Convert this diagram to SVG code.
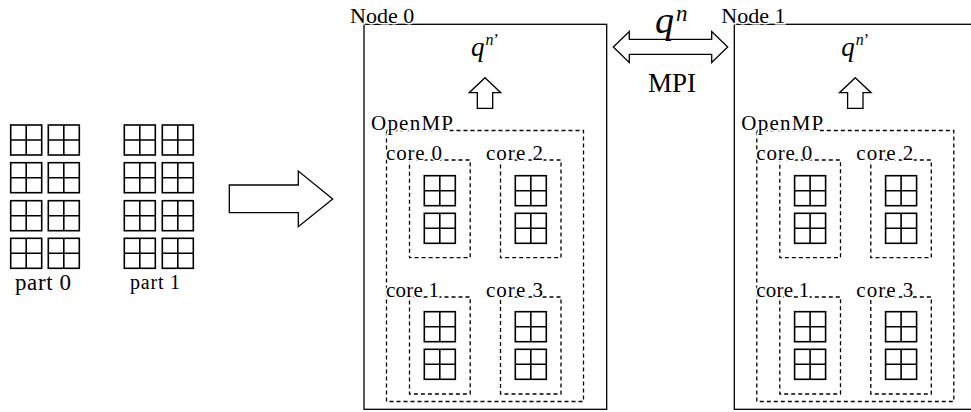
<svg xmlns="http://www.w3.org/2000/svg" xmlns:xlink="http://www.w3.org/1999/xlink" width="971" height="412" viewBox="0 0 971 412" font-family="'Liberation Serif', 'Times New Roman', 'DejaVu Serif', serif">
<style>
text{font-family:"Liberation Serif","Times New Roman","DejaVu Serif",serif;fill:#000}
.lbl{stroke:#fff;stroke-width:3;paint-order:stroke}
.it{font-style:italic}
.box{fill:#fff;stroke:#000;stroke-width:1.3}
.dash{fill:none;stroke:#000;stroke-width:1.3;stroke-dasharray:4 3}
.arr{fill:#fff;stroke:#000;stroke-width:1.3;stroke-linejoin:miter}
.sq{fill:#fff;stroke:#000;stroke-width:1.6}
</style>
<defs>
<g id="sq">
<rect class="sq" x="0" y="0" width="31" height="30"/>
<path class="sq" d="M15.5 0V30M0 15H31"/>
</g>
<g id="core">
<use xlink:href="#sq" href="#sq" x="14.8" y="15.7"/>
<use xlink:href="#sq" href="#sq" x="14.8" y="53.3"/>
</g>
</defs>
<g id="parts">
<use href="#sq" xlink:href="#sq" x="10.7" y="125"/><use href="#sq" xlink:href="#sq" x="48.3" y="125"/>
<use href="#sq" xlink:href="#sq" x="10.7" y="162.7"/><use href="#sq" xlink:href="#sq" x="48.3" y="162.7"/>
<use href="#sq" xlink:href="#sq" x="10.7" y="200.7"/><use href="#sq" xlink:href="#sq" x="48.3" y="200.7"/>
<use href="#sq" xlink:href="#sq" x="10.7" y="238.3"/><use href="#sq" xlink:href="#sq" x="48.3" y="238.3"/>
<use href="#sq" xlink:href="#sq" x="124.3" y="125"/><use href="#sq" xlink:href="#sq" x="162.3" y="125"/>
<use href="#sq" xlink:href="#sq" x="124.3" y="162.7"/><use href="#sq" xlink:href="#sq" x="162.3" y="162.7"/>
<use href="#sq" xlink:href="#sq" x="124.3" y="200.7"/><use href="#sq" xlink:href="#sq" x="162.3" y="200.7"/>
<use href="#sq" xlink:href="#sq" x="124.3" y="238.3"/><use href="#sq" xlink:href="#sq" x="162.3" y="238.3"/>
<text x="15" y="290" font-size="23" textLength="56" lengthAdjust="spacing">part 0</text>
<text x="130" y="289" font-size="20" textLength="50" lengthAdjust="spacing">part 1</text>
</g>
<g id="connectors">
<polygon class="arr" points="229.3,185 298.3,185 298.3,171 332.7,199 298.3,226.7 298.3,212.7 229.3,212.7"/>
<polygon class="arr" points="613.3,47 629.3,31.5 629.3,39.3 711.7,39.3 711.7,31.5 727.7,47 711.7,62.5 711.7,54.3 629.3,54.3 629.3,62.5"/>
<text class="it" x="655" y="33" font-size="38">q</text>
<text class="it" x="676" y="21" font-size="23">n</text>
<text x="648" y="92" font-size="27">MPI</text>
</g>
<g id="node0">
<rect class="box" x="364" y="24.3" width="242.7" height="385"/>
<text class="lbl" x="350" y="23" font-size="22">Node 0</text>
<text class="it" x="471" y="56" font-size="27">q</text>
<text class="it" x="485.5" y="45" font-size="16">n<tspan font-style="normal">’</tspan></text>
<polygon class="arr" points="485,77.7 500.8,92.7 492.7,92.7 492.7,108.3 477.3,108.3 477.3,92.7 469.2,92.7"/>
<rect class="dash" x="386.5" y="130.5" width="197" height="271"/>
<text class="lbl" x="371" y="130" font-size="21" textLength="82" lengthAdjust="spacing">OpenMP</text>
<g id="n0core0"><rect class="dash" x="409.5" y="160" width="60.7" height="97.7"/><use href="#core" xlink:href="#core" x="409.5" y="160"/><text class="lbl" x="386" y="160" font-size="21" textLength="56" lengthAdjust="spacing">core 0</text></g>
<g id="n0core2"><rect class="dash" x="500.5" y="160" width="60.5" height="97.7"/><use href="#core" xlink:href="#core" x="500.5" y="160"/><text class="lbl" x="486" y="160" font-size="21" textLength="57" lengthAdjust="spacing">core 2</text></g>
<g id="n0core1"><rect class="dash" x="409.5" y="297" width="60.7" height="97"/><use href="#core" xlink:href="#core" x="409.5" y="296"/><text class="lbl" x="386" y="297" font-size="21" textLength="53" lengthAdjust="spacing">core 1</text></g>
<g id="n0core3"><rect class="dash" x="500.5" y="297" width="60.5" height="97"/><use href="#core" xlink:href="#core" x="500.5" y="296"/><text class="lbl" x="486" y="297" font-size="21" textLength="57" lengthAdjust="spacing">core 3</text></g>
</g>
<g id="node1" transform="translate(370.3 0)">
<rect class="box" x="364" y="24.3" width="242.7" height="385"/>
<text class="lbl" x="351" y="23" font-size="22">Node 1</text>
<text class="it" x="471" y="56" font-size="27">q</text>
<text class="it" x="485.5" y="45" font-size="16">n<tspan font-style="normal">’</tspan></text>
<polygon class="arr" points="485,77.7 500.8,92.7 492.7,92.7 492.7,108.3 477.3,108.3 477.3,92.7 469.2,92.7"/>
<rect class="dash" x="386.5" y="130.5" width="197" height="271"/>
<text class="lbl" x="371" y="130" font-size="21" textLength="82" lengthAdjust="spacing">OpenMP</text>
<g id="n1core0"><rect class="dash" x="409.5" y="160" width="60.7" height="97.7"/><use href="#core" xlink:href="#core" x="409.5" y="160"/><text class="lbl" x="386" y="160" font-size="21" textLength="56" lengthAdjust="spacing">core 0</text></g>
<g id="n1core2"><rect class="dash" x="500.5" y="160" width="60.5" height="97.7"/><use href="#core" xlink:href="#core" x="500.5" y="160"/><text class="lbl" x="486" y="160" font-size="21" textLength="57" lengthAdjust="spacing">core 2</text></g>
<g id="n1core1"><rect class="dash" x="409.5" y="297" width="60.7" height="97"/><use href="#core" xlink:href="#core" x="409.5" y="296"/><text class="lbl" x="386" y="297" font-size="21" textLength="53" lengthAdjust="spacing">core 1</text></g>
<g id="n1core3"><rect class="dash" x="500.5" y="297" width="60.5" height="97"/><use href="#core" xlink:href="#core" x="500.5" y="296"/><text class="lbl" x="486" y="297" font-size="21" textLength="57" lengthAdjust="spacing">core 3</text></g>
</g>
</svg>
